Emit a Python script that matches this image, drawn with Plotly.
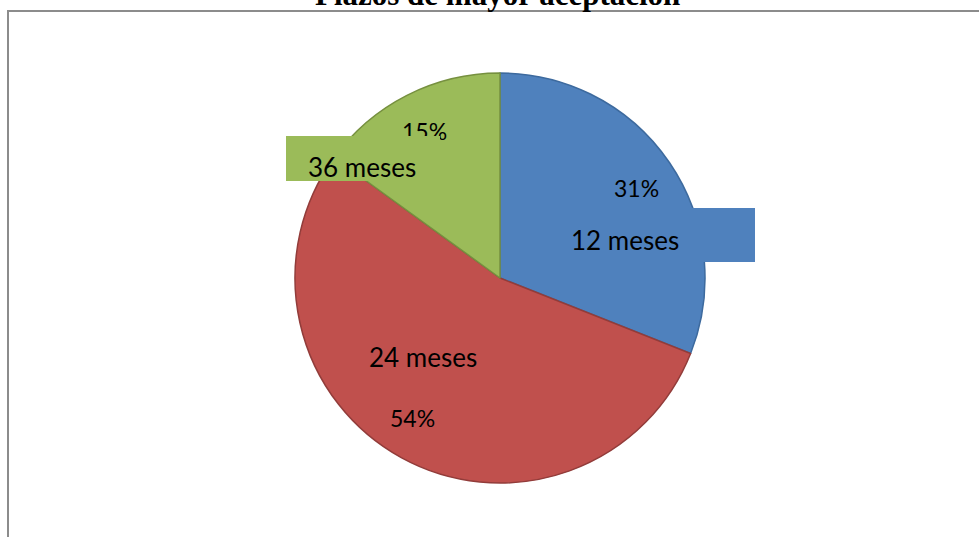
import plotly.graph_objects as go

# Plazos de mayor aceptación
plazos = ["12 meses", "24 meses", "36 meses"]
porcentajes = [31, 54, 15]
colores = ["#4F81BD", "#C0504D", "#9BBB59"]
bordes = ["#3D6A9E", "#923C3A", "#76903F"]

W, H = 979, 537
L, R, T, B = 21, 0, 73, 54
plot_w, plot_h = W - L - R, H - T - B


def px(x):
    return (x - L) / plot_w


def py(y):
    return (H - B - y) / plot_h


total = sum(porcentajes)
pct = [f"{v / total:.0%}" for v in porcentajes]

fig = go.Figure(
    go.Pie(
        labels=plazos,
        values=porcentajes,
        sort=False,
        direction="clockwise",
        rotation=0,
        textinfo="none",
        hoverinfo="label+percent",
        marker={"colors": colores, "line": {"color": bordes, "width": 1.5}},
        showlegend=False,
    )
)

label_font = {"family": "Lato, Carlito, sans-serif", "size": 26, "color": "#000000"}
pct_font = {"family": "Lato, Carlito, sans-serif", "size": 23, "color": "#000000"}


def texto(x, y, text, font):
    return dict(
        x=px(x), y=py(y), xref="paper", yref="paper", text=text,
        showarrow=False, xanchor="center", yanchor="middle", font=font,
    )


def caja(x0, x1, y0, y1, color):
    return dict(
        x=px((x0 + x1) / 2), y=py((y0 + y1) / 2), xref="paper", yref="paper",
        text=" ", showarrow=False, xanchor="center", yanchor="middle",
        width=x1 - x0, height=y1 - y0, bgcolor=color, borderpad=0,
        borderwidth=0,
    )


annotations = [
    texto(636, 188, pct[0], pct_font),
    caja(520, 755, 208, 262, colores[0]),
    texto(625, 240, plazos[0], label_font),
    texto(424, 131, pct[2], pct_font),
    caja(286, 440, 136, 181, colores[2]),
    texto(362, 167, plazos[2], label_font),
    texto(423, 357, plazos[1], label_font),
    texto(412, 418, pct[1], pct_font),
    dict(
        x=px(497), y=py(-6), xref="paper", yref="paper",
        text="<b>Plazos de mayor aceptación</b>", showarrow=False,
        xanchor="center", yanchor="middle",
        font={"family": "Liberation Serif, Times New Roman, serif",
              "size": 31, "color": "#000000"},
    ),
]

fig.update_layout(
    width=W,
    height=H,
    margin={"l": L, "r": R, "t": T, "b": B, "autoexpand": False},
    paper_bgcolor="white",
    plot_bgcolor="white",
    annotations=annotations,
    shapes=[
        dict(
            type="rect", xref="paper", yref="paper",
            x0=px(8), x1=px(W + 20), y0=py(11), y1=py(H + 20),
            line={"color": "#8C8C8C", "width": 2}, fillcolor="rgba(0,0,0,0)",
            layer="below",
        )
    ],
)

fig.write_html(
    "out.html",
    config={"displayModeBar": False},
    post_script="document.body.style.margin = '0';",
)
